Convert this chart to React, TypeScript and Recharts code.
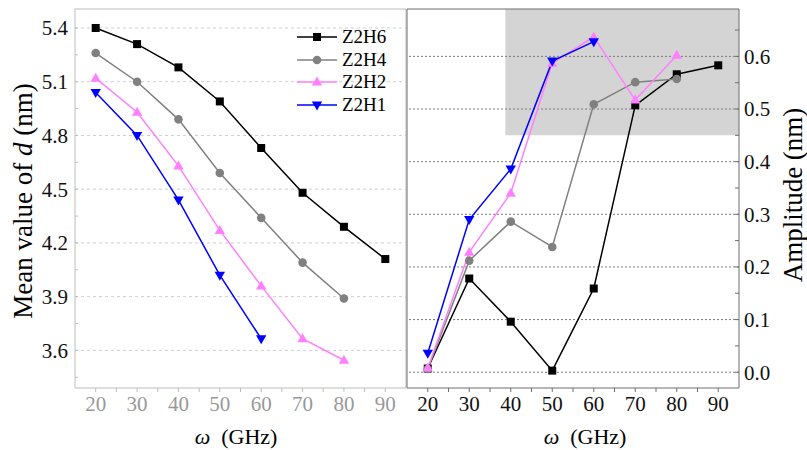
import React from "react";
import {
  LineChart,
  Line,
  XAxis,
  YAxis,
  ReferenceLine,
  ReferenceArea,
} from "recharts";

// frequencies (GHz)
const freqs = [20, 30, 40, 50, 60, 70, 80, 90];

// left panel: mean value of d (nm)
const meanZ2H6 = [5.4, 5.31, 5.18, 4.99, 4.73, 4.48, 4.29, 4.11];
const meanZ2H4 = [5.26, 5.1, 4.89, 4.59, 4.34, 4.09, 3.89];
const meanZ2H2 = [5.12, 4.93, 4.63, 4.27, 3.96, 3.665, 3.545];
const meanZ2H1 = [5.04, 4.8, 4.44, 4.02, 3.665];

// right panel: amplitude (nm)
const ampZ2H6 = [0.007, 0.178, 0.096, 0.003, 0.159, 0.507, 0.566, 0.583];
const ampZ2H4 = [0.006, 0.212, 0.286, 0.238, 0.509, 0.551, 0.557];
const ampZ2H2 = [0.008, 0.228, 0.34, 0.587, 0.637, 0.517, 0.602];
const ampZ2H1 = [0.036, 0.29, 0.386, 0.591, 0.628];

// ticks
const xTicks = [20, 25, 30, 35, 40, 45, 50, 55, 60, 65, 70, 75, 80, 85, 90];
const meanTicks = [3.45, 3.6, 3.75, 3.9, 4.05, 4.2, 4.35, 4.5, 4.65, 4.8, 4.95, 5.1, 5.25, 5.4];
const meanGrid = [3.6, 3.9, 4.2, 4.5, 4.8, 5.1, 5.4];
const ampTicks = [0, 0.05, 0.1, 0.15, 0.2, 0.25, 0.3, 0.35, 0.4, 0.45, 0.5, 0.55, 0.6, 0.65];
const ampGrid = [0, 0.1, 0.2, 0.3, 0.4, 0.5, 0.6];

const seriesNames = ["Z2H6", "Z2H4", "Z2H2", "Z2H1"];
const colors: Record<string, string> = {
  Z2H6: "#000000",
  Z2H4: "#808080",
  Z2H2: "#ff80ff",
  Z2H1: "#0000ff",
};
const shapes: Record<string, string> = {
  Z2H6: "square",
  Z2H4: "circle",
  Z2H2: "up",
  Z2H1: "down",
};

const FONT = "'Liberation Serif', 'Times New Roman', serif";

const meanRows = freqs.map((f, i) => ({
  f,
  Z2H6: meanZ2H6[i],
  Z2H4: meanZ2H4[i],
  Z2H2: meanZ2H2[i],
  Z2H1: meanZ2H1[i],
}));

const ampRows = freqs.map((f, i) => ({
  f,
  Z2H6: ampZ2H6[i],
  Z2H4: ampZ2H4[i],
  Z2H2: ampZ2H2[i],
  Z2H1: ampZ2H1[i],
}));

function Marker({ shape, color, cx, cy }: { shape: string; color: string; cx: number; cy: number }) {
  if (shape === "square") return <rect x={cx - 4} y={cy - 4} width={8} height={8} fill={color} />;
  if (shape === "circle") return <circle cx={cx} cy={cy} r={4.3} fill={color} />;
  if (shape === "up")
    return <polygon points={`${cx},${cy - 5.5} ${cx - 5.2},${cy + 3.5} ${cx + 5.2},${cy + 3.5}`} fill={color} />;
  return <polygon points={`${cx - 5.2},${cy - 3.5} ${cx + 5.2},${cy - 3.5} ${cx},${cy + 5.5}`} fill={color} />;
}

const makeDot = (name: string) => (props: any) => {
  if (props.cx == null || props.cy == null || props.value == null) return <g key={props.index} />;
  return (
    <g key={props.index}>
      <Marker shape={shapes[name]} color={colors[name]} cx={props.cx} cy={props.cy} />
    </g>
  );
};

const meanFmt = (v: number) => (Math.round(v * 100) % 30 === 0 ? v.toFixed(1) : "");
const ampFmt = (v: number) => (Math.round(v * 100) % 10 === 0 ? v.toFixed(1) : "");
const xFmt = (v: number) => (v % 10 === 0 ? String(v) : "");
const none = () => "";

const LIGHT = "#bdbdbd";
const DARK = "#6e6e6e";

function Legend() {
  return (
    <div style={{ position: "absolute", left: 295, top: 26, fontFamily: FONT, fontSize: 19 }}>
      {seriesNames.map((n) => (
        <div key={n} style={{ display: "flex", alignItems: "center", height: 22.5 }}>
          <svg width={44} height={16}>
            <line x1={2} x2={42} y1={8} y2={8} stroke={colors[n]} strokeWidth={1.6} />
            <Marker shape={shapes[n]} color={colors[n]} cx={22} cy={8} />
          </svg>
          <span style={{ marginLeft: 3, color: "#000" }}>{n}</span>
        </div>
      ))}
    </div>
  );
}

export default function App() {
  return (
    <div style={{ position: "absolute", left: 0, top: 0, width: 807, height: 450, background: "#fff", fontFamily: FONT }}>
      <div style={{ position: "absolute", left: 0, top: 0 }}>
        <LineChart width={410} height={450} data={meanRows} margin={{ top: 8, right: 3, bottom: 0, left: 0 }}>
          <XAxis
            dataKey="f"
            type="number"
            domain={[15, 95]}
            ticks={xTicks}
            height={62}
            tickSize={4}
            tickMargin={4}
            tickFormatter={xFmt}
            stroke={LIGHT}
            tick={{ fill: "#999", fontSize: 21, fontFamily: FONT }}
          />
          <XAxis
            xAxisId="top"
            orientation="top"
            type="number"
            domain={[15, 95]}
            ticks={xTicks}
            height={1}
            tickSize={-4}
            tickFormatter={none}
            stroke={LIGHT}
          />
          <YAxis
            type="number"
            domain={[3.39, 5.506]}
            ticks={meanTicks}
            width={75}
            tickSize={-3}
            tickMargin={10}
            tickFormatter={meanFmt}
            stroke={LIGHT}
            tick={{ fill: "#111", fontSize: 21, fontFamily: FONT }}
            allowDataOverflow
          />
          <YAxis
            yAxisId="r"
            orientation="right"
            type="number"
            domain={[3.39, 5.506]}
            ticks={meanTicks}
            width={1}
            tickSize={-3}
            tickFormatter={none}
            stroke={LIGHT}
          />
          {meanGrid.map((v) => (
            <ReferenceLine key={v} y={v} stroke="#cfcfcf" strokeDasharray="3 3" />
          ))}
          {seriesNames.map((n) => (
            <Line
              key={n}
              dataKey={n}
              stroke={colors[n]}
              strokeWidth={1.5}
              dot={makeDot(n)}
              activeDot={false}
              isAnimationActive={false}
            />
          ))}
        </LineChart>
      </div>

      <div style={{ position: "absolute", left: 400, top: 0 }}>
        <LineChart width={407} height={450} data={ampRows} margin={{ top: 8, right: 0, bottom: 0, left: 6 }}>
          <XAxis
            dataKey="f"
            type="number"
            domain={[15, 95]}
            ticks={xTicks}
            height={62}
            tickSize={4}
            tickMargin={4}
            tickFormatter={xFmt}
            stroke={DARK}
            tick={{ fill: "#111", fontSize: 21, fontFamily: FONT }}
          />
          <XAxis
            xAxisId="top"
            orientation="top"
            type="number"
            domain={[15, 95]}
            ticks={xTicks}
            height={1}
            tickSize={-4}
            tickFormatter={none}
            stroke={DARK}
          />
          <YAxis
            yAxisId="l"
            orientation="left"
            type="number"
            domain={[-0.03, 0.69]}
            ticks={ampTicks}
            width={1}
            tickSize={-4}
            tickFormatter={none}
            stroke={DARK}
          />
          <YAxis
            orientation="right"
            type="number"
            domain={[-0.03, 0.69]}
            ticks={ampTicks}
            width={68}
            tickSize={-4}
            tickMargin={9}
            tickFormatter={ampFmt}
            stroke={DARK}
            tick={{ fill: "#111", fontSize: 21, fontFamily: FONT }}
            allowDataOverflow
          />
          <ReferenceArea x1={38.7} x2={95} y1={0.45} y2={0.69} fill="#d4d4d4" fillOpacity={1} stroke="none" />
          {ampGrid.map((v) => (
            <ReferenceLine key={v} y={v} stroke="#7a7a7a" strokeDasharray="2 2" />
          ))}
          {seriesNames.map((n) => (
            <Line
              key={n}
              dataKey={n}
              stroke={colors[n]}
              strokeWidth={1.5}
              dot={makeDot(n)}
              activeDot={false}
              isAnimationActive={false}
            />
          ))}
        </LineChart>
      </div>

      <Legend />

      <div
        style={{
          position: "absolute",
          left: 23,
          top: 201,
          transform: "translate(-50%, -50%) rotate(-90deg)",
          whiteSpace: "nowrap",
          fontSize: 27,
          color: "#000",
        }}
      >
        Mean value of <i>d</i> (nm)
      </div>
      <div
        style={{
          position: "absolute",
          left: 793,
          top: 195,
          transform: "translate(-50%, -50%) rotate(-90deg)",
          whiteSpace: "nowrap",
          fontSize: 27,
          color: "#000",
        }}
      >
        Amplitude (nm)
      </div>
      <div
        style={{ position: "absolute", left: 236, top: 437, transform: "translate(-50%, -50%)", whiteSpace: "nowrap", fontSize: 22 }}
      >
        <i>ω</i>&nbsp; (GHz)
      </div>
      <div
        style={{ position: "absolute", left: 585, top: 437, transform: "translate(-50%, -50%)", whiteSpace: "nowrap", fontSize: 22 }}
      >
        <i>ω</i>&nbsp; (GHz)
      </div>
    </div>
  );
}
